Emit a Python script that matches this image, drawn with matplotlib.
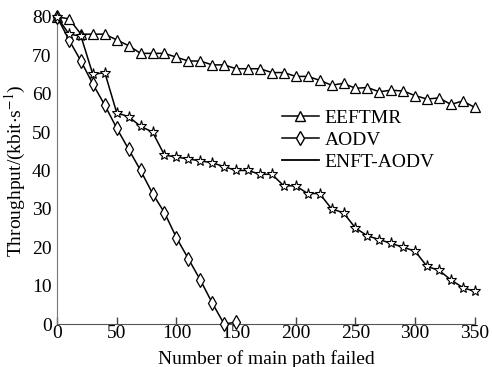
import numpy as np
import matplotlib
matplotlib.use('Agg')
import matplotlib.pyplot as plt
from matplotlib.lines import Line2D

plt.rcParams['font.family'] = ['Liberation Serif', 'DejaVu Serif']
plt.rcParams['mathtext.fontset'] = 'stix'

# data
x_main = list(range(0, 360, 10))
eeftmr = [80, 79.5, 75.5, 75.5, 75.5, 74, 72.5, 70.5, 70.5, 70.5, 69.5, 68.5,
          68.5, 67.5, 67.5, 66.5, 66.5, 66.5, 65.5, 65.5, 64.5, 64.5, 63.5,
          62.2, 62.7, 61.4, 61.6, 60.5, 60.9, 60.7, 59.5, 58.6, 58.9, 57.2,
          58.1, 56.4]
x_aodv = list(range(0, 160, 10))
aodv = [80, 74, 68.5, 62.5, 57, 51, 45.5, 40, 34, 29, 22.5, 17, 11.5, 5.5, 0, 0.5]
enft = [80, 75.5, 75, 65, 65.5, 55, 54, 51.5, 50, 44, 43.5, 43, 42.5, 42, 41,
        40, 40, 39, 39, 36, 36, 34, 34, 30, 29, 25, 23, 22, 21, 20, 19, 15,
        14, 11.5, 9.5, 8.5]
names = ['EEFTMR', 'AODV', 'ENFT-AODV']

fig = plt.figure(figsize=(4.92, 3.67), dpi=100)
ax = fig.add_axes([0.116, 0.117, 0.849, 0.837])

ax.plot(x_main, eeftmr, color='black', lw=1.1, marker='^', ms=7,
        mfc='white', mec='black', mew=0.9, clip_on=False, zorder=3)
ax.plot(x_aodv, aodv, color='black', lw=1.1, marker='d', ms=7,
        mfc='white', mec='black', mew=0.9, clip_on=False, zorder=3)
ax.plot(x_main, enft, color='black', lw=1.1, marker='*', ms=8,
        mfc='white', mec='black', mew=0.8, clip_on=False, zorder=3)

ax.set_xlim(0, 350)
ax.set_ylim(0, 80)
ax.set_xticks(range(0, 351, 50))
ax.set_yticks(range(0, 81, 10))
ax.spines['top'].set_visible(False)
ax.spines['right'].set_visible(False)
ax.spines['left'].set_color('#777777')
ax.spines['bottom'].set_color('#555555')
ax.tick_params(axis='x', direction='in', length=5, width=1, color='#444444',
               labelsize=14, pad=1)
ax.tick_params(axis='y', length=0, labelsize=14, pad=4)

ax.set_xlabel('Number of main path failed', fontsize=14, labelpad=0)
ax.xaxis.set_label_coords(0.5, -0.085)
ax.set_ylabel('Throughput/(kbit$\\cdot$s$^{-1}$)', fontsize=14, labelpad=0)
ax.yaxis.set_label_coords(-0.069, 0.5)

handles = [
    Line2D([], [], color='black', lw=1.1, marker='^', ms=7, mfc='white', mec='black'),
    Line2D([], [], color='black', lw=1.1, marker='d', ms=7, mfc='white', mec='black'),
    Line2D([], [], color='black', lw=1.3),
]
ax.legend(handles, names, loc='upper left', bbox_to_anchor=(0.515, 0.73),
          frameon=False, fontsize=14, handlelength=1.9, handletextpad=0.3,
          labelspacing=0.22, borderpad=0)

fig.savefig('out.png', dpi=100)
